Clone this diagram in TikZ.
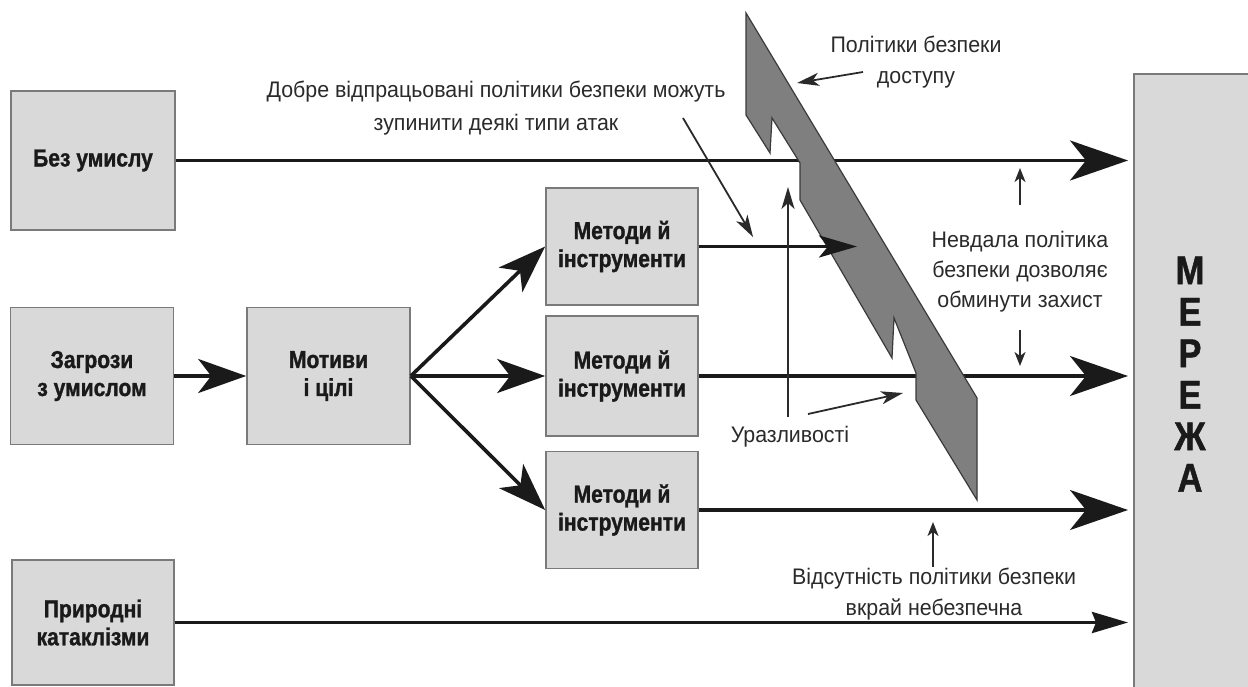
\documentclass[tikz,border=0pt]{standalone}
\usepackage{fontspec}
\setmainfont{Liberation Sans}
\newfontfamily\notefont{Liberation Sans}[FakeStretch=0.95]
\newfontfamily\boxfont{Liberation Sans}[FakeStretch=0.86, BoldFeatures={FakeBold=1.2}]
\usetikzlibrary{arrows.meta}
\definecolor{boxfill}{HTML}{D9D9D9}
\definecolor{boxedge}{HTML}{7A7A7A}
\definecolor{wallfill}{HTML}{7F7F7F}
\definecolor{walledge}{HTML}{3A3A3A}
\definecolor{ink}{HTML}{1A1A1A}
\definecolor{noteink}{HTML}{2A2A2A}
\tikzset{
  box/.style={draw=boxedge, fill=boxfill, line width=1.6pt, align=center,
    inner sep=0pt, text=ink, font=\boxfont\bfseries\fontsize{24.5}{28}\selectfont},
  note/.style={align=center, inner sep=0pt, text=noteink,
    font=\notefont\fontsize{22.5}{31}\selectfont},
  flow/.style={draw=ink, line width=3.6pt},
  bigtip/.style={flow, -{Stealth[length=58pt, width=40pt, inset=16pt]}},
  midtip/.style={flow, -{Stealth[length=48pt, width=34pt, inset=13pt]}},
  walltip/.style={flow, -{Stealth[length=38pt, width=22pt, inset=9pt]}},
  lowtip/.style={flow, -{Stealth[length=36pt, width=21pt, inset=4pt]}},
  pointer/.style={draw=noteink, line width=1.8pt, -{Stealth[length=22pt, width=13pt, inset=6pt]}},
  tick/.style={draw=noteink, line width=1.8pt, -{Stealth[length=14pt, width=11pt, inset=4pt]}},
}
\begin{document}
\begin{tikzpicture}[x=1pt, y=-1pt]
\useasboundingbox (0,0) rectangle (1248,687);
\clip (0,0) rectangle (1248,687);

% sources of threats
\node[box, minimum width=164pt, minimum height=139pt] (bez) at (93,160.5) {Без умислу};
\node[box, minimum width=163pt, minimum height=137pt] (zag) at (92,376) {Загрози\\з умислом};
\node[box, minimum width=162pt, minimum height=125pt] (pryr) at (93,622.5) {Природні\\катаклізми};
\node[box, minimum width=163pt, minimum height=137pt] (motyv) at (328.5,376) {Мотиви\\і цілі};
\node[box, minimum width=152pt, minimum height=117pt] (met1) at (622,246.5) {Методи й\\інструменти};
\node[box, minimum width=152pt, minimum height=120pt] (met2) at (622,376) {Методи й\\інструменти};
\node[box, minimum width=152pt, minimum height=117pt] (met3) at (622,510) {Методи й\\інструменти};

% the protected network
\node[box, anchor=north west, minimum width=150pt, minimum height=660pt] (net) at (1133,73) {};
\node[align=center, inner sep=0pt, text=ink,
      font=\boxfont\bfseries\fontsize{40}{41.5}\selectfont] (netname) at (1190,374)
      {М\\Е\\Р\\Е\\Ж\\А};

% flows that pass behind the policy wall
\draw[bigtip, shorten >=5pt] (bez.east) -- (bez.east -| net.west);
\draw[bigtip, shorten >=5pt] (met2.east) -- (met2.east -| net.west);

% the security-policy wall
\path[fill=wallfill, draw=walledge, line width=1.2pt, line join=miter]
  (746,13) -- (746,115) -- (770,153) -- (772,118) -- (800,163) -- (800,200)
  -- (892,358) -- (894,318) -- (916,373) -- (916,400) -- (977,500)
  -- (977,398) -- cycle;

% flows in front of the wall
\coordinate (hit) at (857,246.5);
\draw[walltip] (met1.east) -- (hit);
\draw[bigtip, shorten >=5pt] (met3.east) -- (met3.east -| net.west);
\draw[lowtip, shorten >=5pt] (pryr.east) -- (pryr.east -| net.west);

\draw[midtip] (zag.east) -- (motyv.west);
\draw[midtip] (motyv.east) -- (met1.west);
\draw[midtip] (motyv.east) -- (met2.west);
\draw[midtip] (motyv.east) -- (met3.west);

% annotations
\node[note] (pol) at (916,62) {Політики безпеки\\доступу};
\node[note, font=\notefont\fontsize{22.5}{33}\selectfont] (dobre) at (496,108.5)
  {Добре відпрацьовані політики безпеки можуть\\зупинити деякі типи атак};
\node[note] (urazl) at (790,437) {Уразливості};
\node[note, font=\notefont\fontsize{22.5}{30}\selectfont] (nevd) at (1020,272)
  {Невдала політика\\безпеки дозволяє\\обминути захист};
\node[note] (vids) at (934,594) {Відсутність політики безпеки\\вкрай небезпечна};

\coordinate (polA) at (863,72);   \coordinate (polB) at (797,83);
\coordinate (dobA) at (683,118);  \coordinate (dobB) at (753,237);
\coordinate (urA) at (788,417);   \coordinate (urB) at (788,187);
\coordinate (urC) at (808,414);   \coordinate (urD) at (903,393);
\coordinate (nvA) at (1020,205);  \coordinate (nvB) at (1020,168);
\coordinate (nvC) at (1020,330);  \coordinate (nvD) at (1020,366);
\coordinate (vdA) at (933,567);   \coordinate (vdB) at (933,522);

\draw[pointer] (polA) -- (polB);
\draw[pointer] (dobA) -- (dobB);
\draw[pointer] (urA) -- (urB);
\draw[pointer] (urC) -- (urD);
\draw[tick] (nvA) -- (nvB);
\draw[tick] (nvC) -- (nvD);
\draw[tick] (vdA) -- (vdB);
\end{tikzpicture}
\end{document}
